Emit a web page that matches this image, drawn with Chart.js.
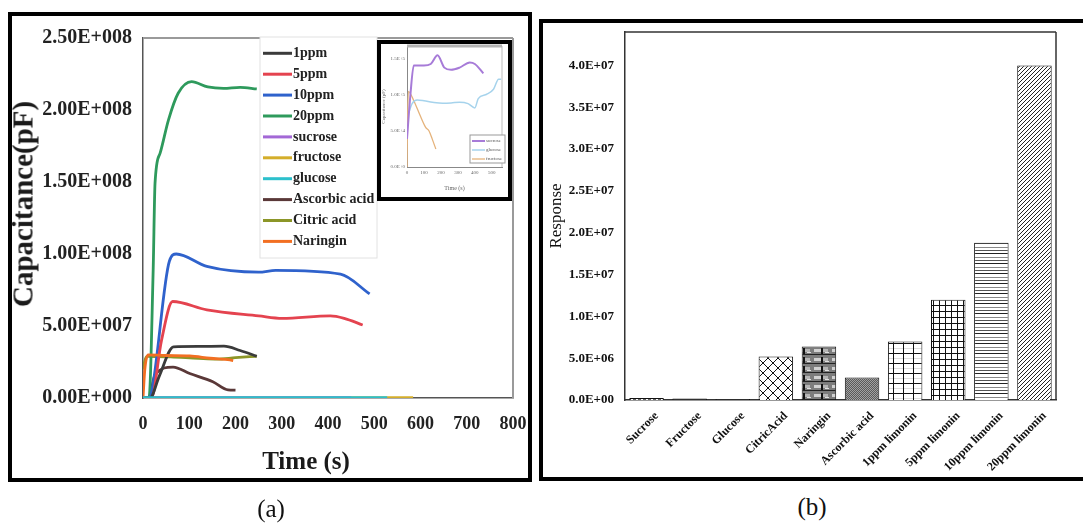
<!DOCTYPE html>
<html lang="en">
<head>
<meta charset="UTF-8">
<title>Capacitance vs time and sensor response</title>
<script src="https://cdn.jsdelivr.net/npm/chart.js"></script>
<style>
  body { margin: 0; width: 1083px; height: 527px; background: #fff; position: relative; overflow: hidden;
         font-family: "Liberation Serif", "Times New Roman", serif; }
  .panel { position: absolute; box-sizing: border-box; border: 4px solid #000; background: #fff; }
  #panelA { left: 8px; top: 12px; width: 524px; height: 470px; }
  #panelB { left: 539px; top: 19px; width: 560px; height: 462px; }
  #inset { position: absolute; left: 365px; top: 24px; width: 135px; height: 161px; box-sizing: border-box;
           border: 4px solid #000; background: #fff; }
  canvas { position: absolute; left: 0; top: 0; }
  .title { position: absolute; white-space: nowrap; transform: translate(-50%, -50%); color: #1a1a1a; }
  #yTitleA { left: 11px; top: 188px; font-weight: bold; font-size: 29px; transform: translate(-50%, -50%) rotate(-90deg); }
  #xTitleA { left: 294px; top: 445px; font-weight: bold; font-size: 25px; }
  .cap { position: absolute; font-size: 25px; transform: translate(-50%, -50%); color: #111; }
</style>
</head>
<body>

<div id="panelA" class="panel">
  <canvas id="chartA" width="516" height="462"></canvas>
  <div id="yTitleA" class="title">Capacitance(pF)</div>
  <div id="xTitleA" class="title">Time (s)</div>
  <div id="inset">
    <canvas id="chartInset" width="127" height="153"></canvas>
  </div>
</div>

<div id="panelB" class="panel">
  <canvas id="chartB" width="540" height="454"></canvas>
</div>

<div class="cap" style="left:271px; top:509px;">(a)</div>
<div class="cap" style="left:812px; top:507px;">(b)</div>

<script>
  // ---- panel (a): capacitance (pF) against time (s) ----
  const t1ppm = [0, 15, 35, 66, 120, 175, 210, 246];
  const c1ppm = [0, 0, 15e6, 35.5e6, 35.8e6, 36e6, 33e6, 29e6];

  const t5ppm = [0, 18, 40, 64, 138, 250, 301, 405, 435, 475];
  const c5ppm = [0, 0, 40e6, 67e6, 61.2e6, 57e6, 55.3e6, 57e6, 55.3e6, 50.7e6];

  const t10ppm = [0, 12, 57, 72, 138, 250, 287, 427, 490];
  const c10ppm = [0, 0, 95e6, 100e6, 91.4e6, 87.4e6, 88.6e6, 86e6, 72.3e6];

  const t20ppm = [0, 13, 22, 26, 37, 55, 76, 105, 140, 174, 210, 246];
  const c20ppm = [0, 0, 89e6, 149e6, 170e6, 193e6, 211.6e6, 219.7e6, 216e6, 215e6, 215.7e6, 214.6e6];

  const tSucrose = [0, 20, 100, 200, 300, 400, 450];
  const cSucrose = [0.1e6, 0.3e6, 0.3e6, 0.3e6, 0.3e6, 0.3e6, 0.3e6];

  const tFructose = [0, 100, 200, 300, 400, 500, 584];
  const cFructose = [0.2e6, 0.2e6, 0.2e6, 0.2e6, 0.2e6, 0.2e6, 0.2e6];

  const tGlucose = [0, 100, 200, 300, 400, 500, 528];
  const cGlucose = [0.3e6, 0.3e6, 0.3e6, 0.3e6, 0.3e6, 0.3e6, 0.3e6];

  const tAscorbic = [0, 12, 26, 65, 101, 151, 184, 200];
  const cAscorbic = [0, 0, 16e6, 21.5e6, 17e6, 11.3e6, 5.6e6, 5.4e6];

  const tCitric = [0, 5, 10, 60, 120, 160, 200, 246];
  const cCitric = [20e6, 27e6, 29e6, 28.5e6, 27.5e6, 27e6, 28e6, 29e6];

  const tNaringin = [0, 4, 11, 50, 101, 145, 188, 195];
  const cNaringin = [0, 20e6, 30e6, 29.5e6, 29.2e6, 27.6e6, 26.4e6, 26e6];

  // ---- inset of panel (a): the three sugars on their own scale ----
  const tInSucrose = [0, 20, 40, 100, 140, 180, 220, 260, 310, 370, 400, 450];
  const cInSucrose = [39e3, 100e3, 141e3, 141e3, 143e3, 155e3, 138e3, 135e3, 138e3, 145e3, 143e3, 130e3];

  const tInGlucose = [10, 30, 60, 100, 150, 210, 260, 310, 360, 400, 420, 470, 510, 540, 555];
  const cInGlucose = [75e3, 88e3, 93e3, 92e3, 90e3, 88.6e3, 89e3, 90e3, 88e3, 82e3, 95e3, 101e3, 108e3, 122e3, 122e3];

  const tInFructose = [0, 3, 8, 40, 80, 110, 130, 150, 170];
  const cInFructose = [0, 60e3, 105e3, 92e3, 70e3, 55e3, 50e3, 38e3, 25e3];

  const yTicksInset = [0, 50e3, 100e3, 150e3];

  // ---- panel (b): response per analyte ----
  const categoriesB = ['Sucrose', 'Fructose', 'Glucose', 'CitricAcid', 'Naringin', 'Ascorbic acid',
                       '1ppm limonin', '5ppm limonin', '10ppm limonin', '20ppm limonin'];
  const responseB = [2.5e5, 1.8e5, 1.2e5, 5.2e6, 6.4e6, 2.7e6, 7.0e6, 12.0e6, 18.8e6, 40.0e6];
  const yTicksB = [0, 5e6, 10e6, 15e6, 20e6, 25e6, 30e6, 35e6, 40e6];

  const serif = '"Liberation Serif", "Times New Roman", serif';

  // 2.50E+008 style labels
  function sci(v, digits, expLen) {
    const parts = v.toExponential(digits).split('e');
    const e = parseInt(parts[1], 10);
    return parts[0] + 'E' + (e < 0 ? '-' : '+') + String(Math.abs(e)).padStart(expLen, '0');
  }

  function pts(t, c) {
    return t.map((x, i) => ({ x: x, y: c[i] }));
  }

  // fixed axis sizes, and no extra room for overhanging labels (layout.padding decides)
  function fixY(w) {
    return s => { s.width = w; s.paddingTop = 0; s.paddingBottom = 0; };
  }
  function fixX(h) {
    return s => { s.height = h; s.paddingLeft = 0; s.paddingRight = 0; };
  }

  // top and right edges of the plot box (left/bottom come from the axis borders)
  const framePlugin = {
    id: 'frame',
    beforeDatasetsDraw(chart, args, opts) {
      const a = chart.chartArea;
      const ctx = chart.ctx;
      ctx.save();
      ctx.strokeStyle = opts.color;
      ctx.lineWidth = opts.width;
      ctx.beginPath();
      ctx.moveTo(a.right, a.top);
      ctx.lineTo(a.right, a.bottom);
      ctx.stroke();
      ctx.strokeStyle = opts.topColor || opts.color;
      ctx.lineWidth = opts.topWidth || opts.width;
      ctx.beginPath();
      ctx.moveTo(a.left, a.top);
      ctx.lineTo(a.right, a.top);
      ctx.stroke();
      ctx.restore();
    }
  };

  // legend drawn as a boxed list inside the plot
  const boxLegend = {
    id: 'boxLegend',
    afterDatasetsDraw(chart, args, o) {
      const ctx = chart.ctx;
      ctx.save();
      ctx.fillStyle = '#fff';
      ctx.fillRect(o.x, o.y, o.w, o.h);
      ctx.strokeStyle = o.boxColor;
      ctx.lineWidth = 1;
      ctx.strokeRect(o.x, o.y, o.w, o.h);
      ctx.font = o.font;
      ctx.textBaseline = 'middle';
      chart.data.datasets.forEach((ds, i) => {
        const y = o.first + i * o.step;
        ctx.strokeStyle = ds.borderColor;
        ctx.lineWidth = o.lineWidth || ds.borderWidth;
        ctx.beginPath();
        ctx.moveTo(o.lineX, y);
        ctx.lineTo(o.lineX + o.lineLen, y);
        ctx.stroke();
        ctx.fillStyle = o.textColor;
        ctx.fillText(ds.label, o.lineX + o.lineLen + 1, y);
      });
      ctx.restore();
    }
  };

  function lineSet(label, t, c, color, order) {
    return {
      label: label,
      data: pts(t, c),
      borderColor: color,
      backgroundColor: color,
      borderWidth: 2.8,
      pointRadius: 0,
      cubicInterpolationMode: 'monotone',
      order: order
    };
  }

  new Chart(document.getElementById('chartA'), {
    type: 'line',
    data: {
      datasets: [
        lineSet('1ppm', t1ppm, c1ppm, '#3b3b3b', 1),
        lineSet('5ppm', t5ppm, c5ppm, '#e4434f', 1),
        lineSet('10ppm', t10ppm, c10ppm, '#2f62cc', 1),
        lineSet('20ppm', t20ppm, c20ppm, '#2e9a5c', 1),
        lineSet('sucrose', tSucrose, cSucrose, '#a368d6', 1),
        lineSet('fructose', tFructose, cFructose, '#d4ae2a', 1),
        lineSet('glucose', tGlucose, cGlucose, '#2cc0cc', -1),
        lineSet('Ascorbic acid', tAscorbic, cAscorbic, '#5a3838', 1),
        lineSet('Citric acid', tCitric, cCitric, '#8c9628', 1),
        lineSet('Naringin', tNaringin, cNaringin, '#f26f22', 0)
      ]
    },
    options: {
      responsive: false,
      animation: false,
      layout: { padding: { top: 22, right: 15, left: 0, bottom: 0 } },
      plugins: {
        legend: { display: false },
        tooltip: { enabled: false },
        frame: { color: '#9a9a9a', width: 2 },
        boxLegend: {
          x: 248, y: 21, w: 117, h: 221, boxColor: '#e2e2e2',
          first: 37.3, step: 20.9, lineX: 251, lineLen: 29, lineWidth: 3,
          font: 'bold 14px ' + serif, textColor: '#222'
        }
      },
      scales: {
        x: {
          type: 'linear', min: 0, max: 800,
          ticks: { stepSize: 100, padding: 16, color: '#222', font: { family: serif, size: 18, weight: 'bold' } },
          grid: { display: false, drawTicks: false },
          border: { display: true, color: '#555', width: 1.5 },
          afterFit: fixX(80)
        },
        y: {
          min: 0, max: 250e6,
          ticks: { stepSize: 50e6, padding: 11, color: '#222', font: { family: serif, size: 20, weight: 'bold' },
                   callback: v => sci(v, 2, 3) },
          grid: { display: false, drawTicks: false },
          border: { display: true, color: '#555', width: 1.5 },
          afterFit: fixY(131)
        }
      }
    },
    plugins: [framePlugin, boxLegend]
  });

  function insetSet(label, t, c, color, width) {
    return {
      label: label, data: pts(t, c), borderColor: color, backgroundColor: color,
      borderWidth: width, pointRadius: 0, cubicInterpolationMode: 'monotone'
    };
  }

  new Chart(document.getElementById('chartInset'), {
    type: 'line',
    data: {
      datasets: [
        insetSet('sucrose', tInSucrose, cInSucrose, '#a77bd8', 2),
        insetSet('glucose', tInGlucose, cInGlucose, '#a6d3ec', 1.5),
        insetSet('fructose', tInFructose, cInFructose, '#e5b37c', 1.3)
      ]
    },
    options: {
      responsive: false,
      animation: false,
      layout: { padding: { top: 2, right: 6, left: 0, bottom: 0 } },
      plugins: {
        legend: { display: false },
        tooltip: { enabled: false },
        frame: { color: '#bbb', width: 1, topColor: '#b4b4b4', topWidth: 3 },
        boxLegend: {
          x: 89, y: 91, w: 35, h: 28, boxColor: '#999',
          first: 97, step: 9, lineX: 91, lineLen: 13,
          font: '5px ' + serif, textColor: '#555'
        }
      },
      scales: {
        x: {
          type: 'linear', min: 0, max: 560,
          ticks: { stepSize: 100, includeBounds: false, padding: 3, color: '#666', font: { family: serif, size: 5 } },
          grid: { display: false, drawTicks: false },
          border: { display: true, color: '#888', width: 1 },
          title: { display: true, text: 'Time (s)', color: '#666', font: { family: serif, size: 6 }, padding: { top: 2, bottom: 5 } },
          afterFit: fixX(30)
        },
        y: {
          min: 0, max: 168e3,
          afterBuildTicks(s) { s.ticks = yTicksInset.map(v => ({ value: v })); },
          ticks: { padding: 2, color: '#666', font: { family: serif, size: 5 }, callback: v => sci(v, 1, 1) },
          grid: { display: false, drawTicks: false },
          border: { display: true, color: '#888', width: 1 },
          title: { display: true, text: 'Capacitance (pF)', color: '#666', font: { family: serif, size: 5 }, padding: { top: 0, bottom: 0 } },
          afterFit: fixY(26)
        }
      }
    },
    plugins: [framePlugin, boxLegend]
  });

  // ---- fill textures for the bars ----
  const ctxB = document.getElementById('chartB').getContext('2d');
  function makePattern(w, h, draw) {
    const c = document.createElement('canvas');
    c.width = w; c.height = h;
    const g = c.getContext('2d');
    draw(g, w, h);
    return ctxB.createPattern(c, 'repeat');
  }
  const texSucrose = makePattern(5, 3, g => {
    g.fillStyle = '#fff'; g.fillRect(0, 0, 5, 3);
    g.fillStyle = '#666'; g.fillRect(0, 1, 3, 1);
  });
  const texCitric = makePattern(10, 10, g => {
    g.fillStyle = '#fff'; g.fillRect(0, 0, 10, 10);
    g.strokeStyle = '#111'; g.lineWidth = 1;
    g.beginPath(); g.moveTo(0, 0); g.lineTo(10, 10); g.moveTo(10, 0); g.lineTo(0, 10); g.stroke();
  });
  const texNaringin = makePattern(18, 9, g => {
    g.fillStyle = '#7d7d7d'; g.fillRect(0, 0, 18, 9);
    g.fillStyle = '#d2d2d2'; g.fillRect(1, 2, 7, 3);
    g.fillStyle = '#b5b5b5'; g.fillRect(10, 2, 5, 3);
    g.fillStyle = '#111'; g.fillRect(8, 1, 2, 6);
    g.fillStyle = '#222'; g.fillRect(0, 7, 18, 1);
    g.fillStyle = '#e0e0e0'; g.fillRect(12, 5, 4, 1);
  });
  const texAscorbic = makePattern(2, 2, g => {
    g.fillStyle = '#5a5a5a'; g.fillRect(0, 0, 2, 2);
    g.fillStyle = '#a2a2a2'; g.fillRect(0, 0, 1, 1); g.fillRect(1, 1, 1, 1);
  });
  const texGridWide = makePattern(10, 10, g => {
    g.fillStyle = '#fff'; g.fillRect(0, 0, 10, 10);
    g.fillStyle = '#ddd'; g.fillRect(0, 5, 10, 1);
    g.fillStyle = '#111'; g.fillRect(0, 0, 10, 1); g.fillRect(0, 0, 1, 10);
  });
  const texGridNarrow = makePattern(6, 6, g => {
    g.fillStyle = '#fff'; g.fillRect(0, 0, 6, 6);
    g.fillStyle = '#111'; g.fillRect(0, 0, 6, 1); g.fillRect(0, 0, 1, 6);
  });
  const texHoriz = makePattern(4, 10, g => {
    g.fillStyle = '#fff'; g.fillRect(0, 0, 4, 10);
    g.fillStyle = '#222'; g.fillRect(0, 0, 4, 1);
    g.fillStyle = '#888'; g.fillRect(0, 4, 4, 1);
    g.fillStyle = '#555'; g.fillRect(0, 7, 4, 1);
  });
  const texDiag = makePattern(4, 4, g => {
    g.fillStyle = '#fff'; g.fillRect(0, 0, 4, 4);
    g.strokeStyle = '#222'; g.lineWidth = 1;
    g.beginPath();
    g.moveTo(0, 4); g.lineTo(4, 0);
    g.moveTo(-1, 1); g.lineTo(1, -1);
    g.moveTo(3, 5); g.lineTo(5, 3);
    g.stroke();
  });
  const barFills = [texSucrose, '#333', '#3a3a3a', texCitric, texNaringin, texAscorbic,
                    texGridWide, texGridNarrow, texHoriz, texDiag];

  new Chart(ctxB, {
    type: 'bar',
    data: {
      labels: categoriesB,
      datasets: [{
        data: responseB,
        backgroundColor: barFills,
        borderColor: '#111',
        borderWidth: 1,
        barPercentage: 0.8,
        categoryPercentage: 1.0
      }]
    },
    options: {
      responsive: false,
      animation: false,
      layout: { padding: { top: 9, right: 27, left: 0, bottom: 0 } },
      plugins: {
        legend: { display: false },
        tooltip: { enabled: false },
        frame: { color: '#333', width: 1.5 }
      },
      scales: {
        x: {
          ticks: { minRotation: 45, maxRotation: 45, autoSkip: false, padding: 9, labelOffset: 10, color: '#111',
                   font: { family: serif, size: 12, weight: 'bold' } },
          grid: { display: false, drawTicks: false },
          border: { display: true, color: '#333', width: 1.5 },
          afterFit: fixX(77)
        },
        y: {
          min: 0, max: 44e6,
          afterBuildTicks(s) { s.ticks = yTicksB.map(v => ({ value: v })); },
          ticks: { padding: 11, color: '#111', font: { family: serif, size: 13, weight: 'bold' },
                   callback: v => sci(v, 1, 2) },
          grid: { display: false, drawTicks: false },
          border: { display: true, color: '#333', width: 1.5 },
          title: { display: true, text: 'Response', color: '#111', font: { family: serif, size: 17 },
                   padding: { top: 3, bottom: 0 } },
          afterFit: fixY(82)
        }
      }
    },
    plugins: [framePlugin]
  });
</script>
</body>
</html>
